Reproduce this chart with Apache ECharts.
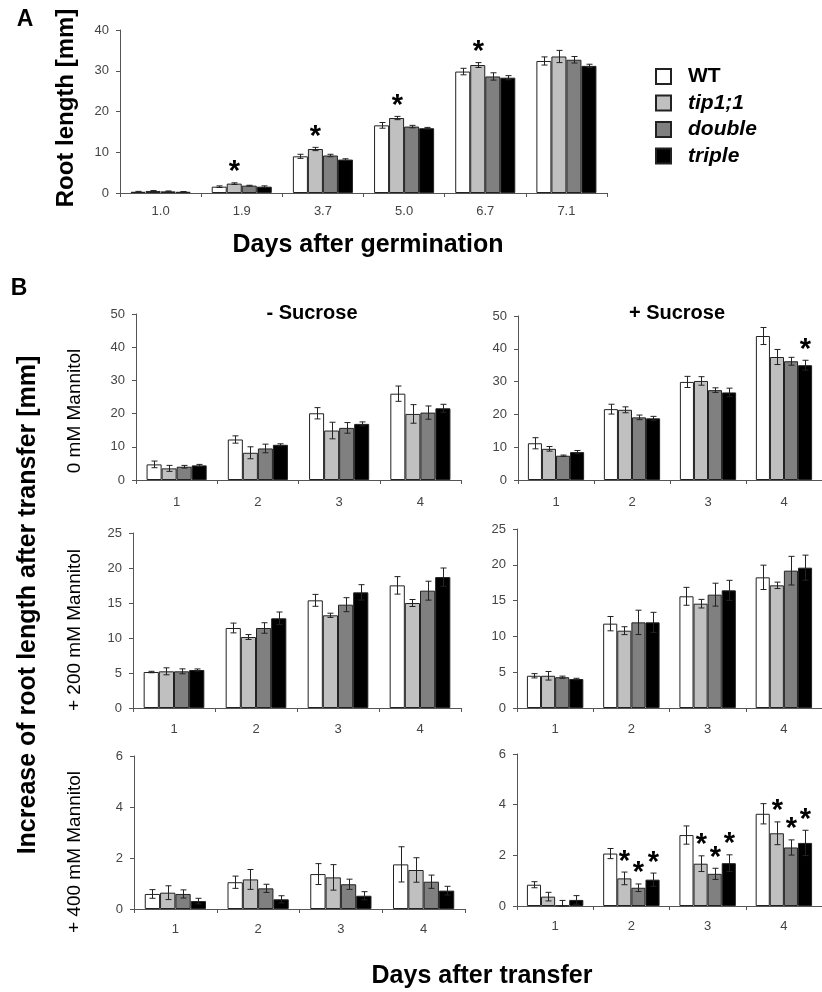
<!DOCTYPE html>
<html>
<head>
<meta charset="utf-8">
<script src="https://cdn.jsdelivr.net/npm/echarts@6/dist/echarts.min.js"></script>
<style>html,body{margin:0;padding:0;background:#fff}#c{width:822px;height:992px}</style>
</head>
<body>
<div id="c"></div>
<script>
// ---------- DATA ----------
const genotypes = ['WT', 'tip1;1', 'double', 'triple'];

// Panel A: root length [mm] vs days after germination
const daysA = ['1.0', '1.9', '3.7', '5.0', '6.7', '7.1'];
const A_mean = [
  [0.3, 1.55, 9.0, 16.6, 29.8, 32.4],
  [0.5, 2.3, 10.8, 18.4, 31.4, 33.5],
  [0.4, 1.8, 9.2, 16.3, 28.6, 32.7],
  [0.3, 1.55, 8.2, 15.9, 28.3, 31.2]
];
const A_err = [
  [0.1, 0.2, 0.5, 0.7, 0.8, 1.0],
  [0.1, 0.2, 0.4, 0.4, 0.6, 1.5],
  [0.1, 0.1, 0.3, 0.3, 0.9, 0.8],
  [0.05, 0.2, 0.2, 0.2, 0.5, 0.4]
];
const A_stars = [[1, 1], [1, 2], [1, 3], [1, 4]]; // [genotype, category]

// Panel B: increase of root length after transfer [mm]
const daysB = ['1', '2', '3', '4'];

const B0minus_mean = [
  [4.7, 12.2, 20.1, 26.0],
  [3.5, 8.2, 14.9, 19.9],
  [4.0, 9.5, 15.7, 20.3],
  [4.4, 10.6, 16.9, 21.6]
];
const B0minus_err = [
  [1.0, 1.1, 1.7, 2.3],
  [0.9, 1.8, 2.5, 2.8],
  [0.4, 1.3, 1.6, 2.0],
  [0.3, 0.3, 0.6, 1.2]
];
const B0minus_stars = [];

const B0plus_mean = [
  [11.2, 21.6, 29.9, 43.9],
  [9.5, 21.4, 30.2, 37.5],
  [7.4, 19.1, 27.4, 36.2],
  [8.5, 18.8, 26.7, 35.0]
];
const B0plus_err = [
  [1.7, 1.5, 1.7, 2.6],
  [0.7, 0.9, 1.3, 2.3],
  [0.2, 0.7, 0.7, 1.2],
  [0.5, 0.6, 1.3, 1.5]
];
const B0plus_stars = [[3, 3]];

const B200minus_mean = [
  [5.14, 11.43, 15.38, 17.52],
  [5.24, 10.14, 13.24, 15.0],
  [5.24, 11.43, 14.76, 16.76],
  [5.43, 12.81, 16.52, 18.7]
];
const B200minus_err = [
  [0.1, 0.7, 0.85, 1.25],
  [0.5, 0.35, 0.3, 0.5],
  [0.35, 0.75, 1.0, 1.35],
  [0.15, 0.9, 1.1, 1.3]
];
const B200minus_stars = [];

const B200plus_mean = [
  [4.5, 11.78, 15.6, 18.25],
  [4.5, 10.8, 14.57, 17.13],
  [4.3, 11.96, 15.83, 19.18],
  [4.05, 11.96, 16.43, 19.6]
];
const B200plus_err = [
  [0.3, 1.0, 1.25, 1.7],
  [0.6, 0.55, 0.6, 0.45],
  [0.15, 1.7, 1.6, 2.0],
  [0.1, 1.4, 1.4, 1.75]
];
const B200plus_stars = [];

const B400minus_mean = [
  [0.59, 1.05, 1.37, 1.75],
  [0.64, 1.16, 1.24, 1.53],
  [0.59, 0.81, 0.97, 1.07],
  [0.31, 0.38, 0.52, 0.72]
];
const B400minus_err = [
  [0.17, 0.24, 0.41, 0.69],
  [0.27, 0.39, 0.5, 0.48],
  [0.16, 0.16, 0.2, 0.26],
  [0.11, 0.14, 0.16, 0.17]
];
const B400minus_stars = [];

const B400plus_mean = [
  [0.84, 2.07, 2.8, 3.64],
  [0.37, 1.09, 1.67, 2.87],
  [0.02, 0.72, 1.27, 2.31],
  [0.24, 1.04, 1.69, 2.49]
];
const B400plus_err = [
  [0.12, 0.2, 0.36, 0.4],
  [0.17, 0.25, 0.31, 0.45],
  [0.2, 0.15, 0.22, 0.3],
  [0.17, 0.26, 0.33, 0.5]
];
const B400plus_stars = [[1, 1], [2, 1], [3, 1], [1, 2], [2, 2], [3, 2], [1, 3], [2, 3], [3, 3]];

// ---------- STYLE / LAYOUT ----------
const FONT = '"Liberation Sans", Arial, sans-serif';
const fills = ['#ffffff', '#c0c0c0', '#808080', '#000000'];
const GAP = 0.26;

const panels = [
  { cats: daysA, mean: A_mean, err: A_err, stars: A_stars, max: 40, interval: 10,
    grid: { left: 120, top: 30, width: 487, height: 163 }, lblMargin: 12 },
  { cats: daysB, mean: B0minus_mean, err: B0minus_err, stars: B0minus_stars, max: 50, interval: 10,
    grid: { left: 136, top: 314, width: 325, height: 166 }, lblMargin: 16 },
  { cats: daysB, mean: B0plus_mean, err: B0plus_err, stars: B0plus_stars, max: 50, interval: 10,
    grid: { left: 518, top: 316, width: 311, height: 164 }, lblMargin: 16 },
  { cats: daysB, mean: B200minus_mean, err: B200minus_err, stars: B200minus_stars, max: 25, interval: 5,
    grid: { left: 133, top: 533, width: 328, height: 175 }, lblMargin: 15 },
  { cats: daysB, mean: B200plus_mean, err: B200plus_err, stars: B200plus_stars, max: 25, interval: 5,
    grid: { left: 517, top: 529, width: 308, height: 179 }, lblMargin: 15 },
  { cats: daysB, mean: B400minus_mean, err: B400minus_err, stars: B400minus_stars, max: 6, interval: 2,
    grid: { left: 134, top: 756, width: 331, height: 153 }, lblMargin: 14 },
  { cats: daysB, mean: B400plus_mean, err: B400plus_err, stars: B400plus_stars, max: 6, interval: 2,
    grid: { left: 517, top: 754, width: 308, height: 152 }, lblMargin: 14 }
];

function errRender(params, api) {
  const cat = api.value(0), v = api.value(1), e = api.value(2), g = api.value(3), star = api.value(4);
  const catW = api.size([1, 0])[0];
  const bw = catW * (1 - GAP) / 4;
  const cx = Math.round(api.coord([cat, v])[0] + (g - 1.5) * bw) + 0.5;
  const yTop = api.coord([cat, v + e])[1];
  const yBot = api.coord([cat, Math.max(0, v - e)])[1];
  const cap = 3;
  const st = { stroke: '#222', lineWidth: 1 };
  const children = [
    { type: 'line', shape: { x1: cx, y1: yTop, x2: cx, y2: yBot }, style: st },
    { type: 'line', shape: { x1: cx - cap, y1: yTop, x2: cx + cap, y2: yTop }, style: st },
    { type: 'line', shape: { x1: cx - cap, y1: yBot, x2: cx + cap, y2: yBot }, style: st }
  ];
  if (star) {
    children.push({ type: 'text', x: cx, y: yTop + 4,
      style: { text: '*', font: 'bold 29px ' + FONT, fill: '#000', align: 'center', verticalAlign: 'bottom' } });
  }
  return { type: 'group', children };
}

const grids = [], xAxes = [], yAxes = [], series = [];
panels.forEach((p, pi) => {
  grids.push(Object.assign({ containLabel: false }, p.grid));
  xAxes.push({
    type: 'category', gridIndex: pi, data: p.cats,
    axisLine: { lineStyle: { color: '#555', width: 1 } },
    axisTick: { show: true, length: 4, lineStyle: { color: '#555' } },
    axisLabel: { color: '#444', fontSize: 13, fontFamily: FONT, margin: p.lblMargin }
  });
  yAxes.push({
    type: 'value', gridIndex: pi, min: 0, max: p.max, interval: p.interval,
    axisLine: { show: true, lineStyle: { color: '#555', width: 1 } },
    axisTick: { show: true, length: 4, lineStyle: { color: '#555' } },
    splitLine: { show: false },
    axisLabel: { color: '#444', fontSize: 13, fontFamily: FONT, margin: 11 }
  });
  genotypes.forEach((g, gi) => {
    series.push({
      type: 'bar', name: g, xAxisIndex: pi, yAxisIndex: pi,
      data: p.mean[gi], barGap: '0%', barCategoryGap: (GAP * 100) + '%',
      itemStyle: { color: fills[gi], borderColor: '#222', borderWidth: 1 },
      emphasis: { disabled: true }, silent: true
    });
  });
  const ed = [];
  genotypes.forEach((g, gi) => {
    p.mean[gi].forEach((v, ci) => {
      const hasStar = p.stars.some(s => s[0] === gi && s[1] === ci) ? 1 : 0;
      ed.push([ci, v, p.err[gi][ci], gi, hasStar]);
    });
  });
  series.push({
    type: 'custom', xAxisIndex: pi, yAxisIndex: pi, data: ed, renderItem: errRender,
    z: 5, silent: true, clip: false, encode: { x: 0, y: 1 }
  });
});

function vtext(text, x, y, size, weight) {
  return { type: 'text', x: x, y: y, rotation: Math.PI / 2,
    style: { text: text, font: (weight || 'normal') + ' ' + size + 'px ' + FONT, fill: '#000', align: 'center', verticalAlign: 'middle' } };
}
function htext(text, x, y, size, weight) {
  return { type: 'text', x: x, y: y,
    style: { text: text, font: (weight || 'normal') + ' ' + size + 'px ' + FONT, fill: '#000', align: 'center', verticalAlign: 'middle' } };
}

const option = {
  animation: false,
  backgroundColor: '#fff',
  grid: grids, xAxis: xAxes, yAxis: yAxes, series: series,
  legend: {
    data: genotypes, orient: 'vertical', left: 650, top: 61,
    itemWidth: 15, itemHeight: 15, itemGap: 5.5, icon: 'rect', selectedMode: false,
    formatter: n => (n === 'WT' ? '{n|' + n + '}' : '{i|' + n + '}'),
    textStyle: {
      fontFamily: FONT, fontSize: 21, fontWeight: 'bold', color: '#000',
      rich: {
        n: { fontFamily: FONT, fontSize: 21, fontWeight: 'bold', color: '#000', padding: [0, 0, 0, 12] },
        i: { fontFamily: FONT, fontSize: 21, fontWeight: 'bold', fontStyle: 'italic', color: '#000', padding: [0, 0, 0, 12] }
      }
    }
  },
  graphic: [
    htext('A', 25, 20, 23, 'bold'),
    htext('B', 19, 289, 23, 'bold'),
    vtext('Root length [mm]', 66, 108, 24, 'bold'),
    htext('Days after germination', 368, 245, 25, 'bold'),
    htext('- Sucrose', 312, 313, 20, 'bold'),
    htext('+ Sucrose', 677, 313, 20, 'bold'),
    vtext('Increase of root length after transfer [mm]', 28, 605, 25, 'bold'),
    vtext('0 mM Mannitol', 75, 411, 19),
    vtext('+ 200 mM Mannitol', 75, 630, 19),
    vtext('+ 400 mM Mannitol', 75, 852, 19),
    htext('Days after transfer', 482, 976, 25, 'bold')
  ]
};

const chart = echarts.init(document.getElementById('c'), null, { renderer: 'canvas' });
chart.setOption(option);
</script>
</body>
</html>
